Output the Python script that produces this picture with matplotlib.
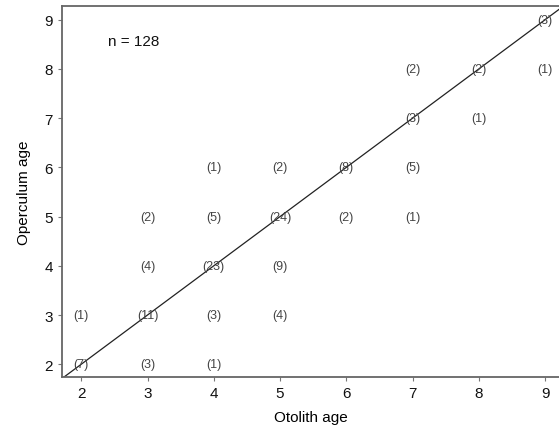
import matplotlib
matplotlib.use("Agg")
from matplotlib import pyplot as plt

plt.rcParams["font.family"] = ["Liberation Sans", "DejaVu Sans"]

# otolith age, operculum age, number of fish
otolith = [2, 3, 4, 2, 3, 4, 5, 3, 4, 5, 3, 4, 5, 6, 7, 4, 5, 6, 7, 7, 8, 7, 8, 9, 9]
operculum = [2, 2, 2, 3, 3, 3, 3, 4, 4, 4, 5, 5, 5, 5, 5, 6, 6, 6, 6, 7, 7, 8, 8, 8, 9]
counts = [7, 3, 1, 1, 11, 3, 4, 4, 23, 9, 2, 5, 24, 2, 1, 1, 2, 8, 5, 3, 1, 2, 2, 1, 3]
ticks = [2, 3, 4, 5, 6, 7, 8, 9]

fig = plt.figure(figsize=(5.59, 4.35), dpi=100)
ax = fig.add_axes([0.111, 0.131, 0.889, 0.853])

xlim = (1.71, 9.21)
ylim = (1.74, 9.28)
ax.set_xlim(*xlim)
ax.set_ylim(*ylim)

# 1:1 line
lo = min(xlim[0], ylim[0])
hi = max(xlim[1], ylim[1])
ax.plot([lo, hi], [lo, hi], color="#222222", lw=0.9)

for x, y, c in zip(otolith, operculum, counts):
    ax.text(x, y, f"({c})", ha="center", va="center", fontsize=9, color="#444444")

ax.text(2.4, 8.57, "n = 128", ha="left", va="center", fontsize=11, color="#111111")

ax.set_xticks(ticks)
ax.set_yticks(ticks)
ax.tick_params(length=3, width=0.8, color="#777777", labelsize=11, labelcolor="#111111")
ax.spines["right"].set_visible(False)
for s in ("left", "bottom", "top"):
    ax.spines[s].set_color("#666666")
    ax.spines[s].set_linewidth(1.3)

ax.set_xlabel("Otolith age", fontsize=11, labelpad=7)
ax.set_ylabel("Operculum age", fontsize=11, labelpad=10)

fig.savefig("out.png", dpi=100)
